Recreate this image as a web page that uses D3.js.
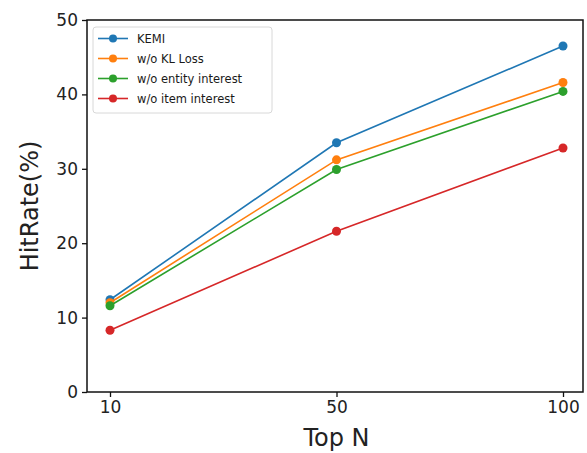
<!DOCTYPE html>
<html>
<head>
<meta charset="utf-8">
<script src="https://cdn.jsdelivr.net/npm/d3@7"></script>
<style>
  body { margin: 0; background: #fff; }
  text { font-family: "DejaVu Sans", sans-serif; }
</style>
</head>
<body>
<div id="chart"></div>
<script>
var topN = ["10", "50", "100"];
var seriesNames = ["KEMI", "w/o KL Loss", "w/o entity interest", "w/o item  interest"];
var kemi = [12.4, 33.5, 46.5];
var woKL = [12.0, 31.2, 41.6];
var woEntity = [11.6, 29.9, 40.4];
var woItem = [8.3, 21.6, 32.8];
var yTicks = [0, 10, 20, 30, 40, 50];
var colors = ["#1f77b4", "#ff7f0e", "#2ca02c", "#d62728"];

var allSeries = [kemi, woKL, woEntity, woItem];

var margin = {top: 20, right: 4, bottom: 61, left: 87},
    width = 587 - margin.left - margin.right,
    height = 453 - margin.top - margin.bottom;

var svg = d3.select("#chart")
    .append("svg")
    .attr("width", 587)
    .attr("height", 453)
    .append("g")
    .attr("transform", "translate(" + margin.left + "," + margin.top + ")");

var x = d3.scalePoint()
    .domain(topN)
    .range([23, width - 20]);

var y = d3.scaleLinear()
    .domain([0, 50])
    .range([height, 0]);

// frame
svg.append("rect")
    .attr("x", 0)
    .attr("y", 0)
    .attr("width", width)
    .attr("height", height)
    .style("fill", "none")
    .style("stroke", "#111")
    .style("stroke-width", 1.5);

var yAxis = svg.append("g")
    .call(d3.axisLeft(y).tickValues(yTicks).tickSize(5).tickPadding(4));
var xAxis = svg.append("g")
    .attr("transform", "translate(0," + height + ")")
    .call(d3.axisBottom(x).tickSize(5).tickPadding(4));

[yAxis, xAxis].forEach(function (a) {
    a.select(".domain").remove();
    a.selectAll("line").style("stroke", "#111").style("stroke-width", 1.3);
    a.selectAll("text")
        .style("font-size", "17px")
        .style("font-family", "DejaVu Sans")
        .style("fill", "#222");
});

var line = d3.line()
    .x(function (d, i) { return x(topN[i]); })
    .y(function (d) { return y(d); });

allSeries.forEach(function (s, k) {
    svg.append("path")
        .datum(s)
        .attr("d", line)
        .style("fill", "none")
        .style("stroke", colors[k])
        .style("stroke-width", 1.6);
    svg.selectAll(".pt" + k)
        .data(s)
        .enter()
        .append("circle")
        .attr("cx", function (d, i) { return x(topN[i]); })
        .attr("cy", function (d) { return y(d); })
        .attr("r", 4.5)
        .style("fill", colors[k]);
});

// legend
var legend = svg.append("g").attr("transform", "translate(6,7)");
legend.append("rect")
    .attr("width", 179)
    .attr("height", 86)
    .attr("rx", 3)
    .style("fill", "#fff")
    .style("fill-opacity", 0.8)
    .style("stroke", "#d8d8d8");

seriesNames.forEach(function (n, k) {
    var g = legend.append("g").attr("transform", "translate(0," + (11.5 + k * 20) + ")");
    g.append("line")
        .attr("x1", 5).attr("x2", 35)
        .style("stroke", colors[k])
        .style("stroke-width", 1.6);
    g.append("circle")
        .attr("cx", 20)
        .attr("r", 4)
        .style("fill", colors[k]);
    g.append("text")
        .attr("x", 44)
        .attr("dy", "0.35em")
        .text(n)
        .style("font-size", "11.5px")
        .style("fill", "#1a1a1a");
});

// axis titles
svg.append("text")
    .attr("x", x("50"))
    .attr("y", height + 54)
    .style("text-anchor", "middle")
    .style("font-size", "24px")
    .style("fill", "#222")
    .text("Top N");

svg.append("text")
    .attr("transform", "translate(" + (-49) + "," + (height / 2) + ") rotate(-90)")
    .style("text-anchor", "middle")
    .style("font-size", "24px")
    .style("fill", "#222")
    .text("HitRate(%)");
</script>
</body>
</html>
